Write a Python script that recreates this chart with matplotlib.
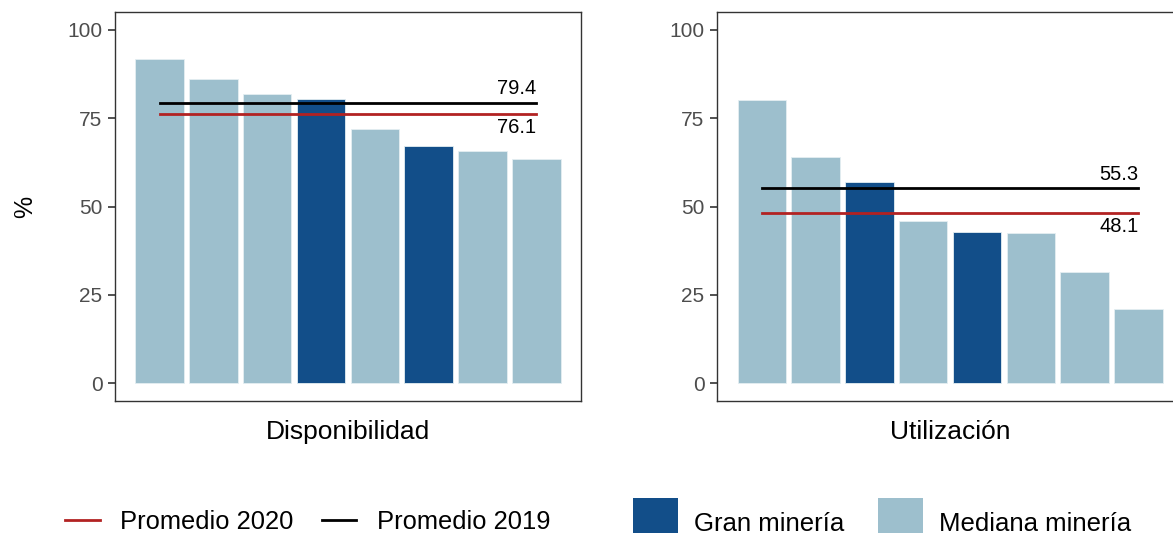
#!/usr/bin/env python3
"""
Disponibilidad y utilización por faena: barras con promedios 2019 / 2020
"""

import matplotlib
matplotlib.use('Agg')
import matplotlib.pyplot as plt
from matplotlib.lines import Line2D
from matplotlib.patches import Patch, Rectangle
from matplotlib.legend_handler import HandlerPatch

plt.rcParams['font.family'] = ['Liberation Sans', 'DejaVu Sans']

# Data
disp_values = [91.8, 86.2, 81.9, 80.5, 71.8, 67.0, 65.8, 63.3]
disp_groups = ['Mediana', 'Mediana', 'Mediana', 'Gran', 'Mediana', 'Gran', 'Mediana', 'Mediana']
disp_avg_2019 = 79.4
disp_avg_2020 = 76.1

util_values = [80.0, 64.1, 56.9, 46.0, 42.7, 42.5, 31.4, 20.9]
util_groups = ['Mediana', 'Mediana', 'Gran', 'Mediana', 'Gran', 'Mediana', 'Mediana', 'Mediana']
util_avg_2019 = 55.3
util_avg_2020 = 48.1

yticks = [0, 25, 50, 75, 100]

DARK = '#124e89'
LIGHT = '#9dbfcd'
RED = '#b22222'
colors = {'Gran': DARK, 'Mediana': LIGHT}


def draw_panel(ax, values, groups, avg19, avg20, xlabel):
    x = list(range(1, len(values) + 1))
    ax.bar(x, values, width=0.9, color=[colors[g] for g in groups],
           edgecolor='#e4eef2', linewidth=0.6, zorder=2)
    ax.plot([x[0], x[-1]], [avg19, avg19], color='black', lw=2.0, zorder=3)
    ax.plot([x[0], x[-1]], [avg20, avg20], color=RED, lw=2.0, zorder=3)
    hi, lo = (avg19, avg20) if avg19 >= avg20 else (avg20, avg19)
    ax.annotate(f'{hi:.1f}', (x[-1], hi), xytext=(0, 3), textcoords='offset points',
                ha='right', va='bottom', fontsize=14.5)
    ax.annotate(f'{lo:.1f}', (x[-1], lo), xytext=(0, -3), textcoords='offset points',
                ha='right', va='top', fontsize=14.5)

    ax.set_xlim(0.17, 8.83)
    ax.set_ylim(-5, 105)
    ax.set_xticks([])
    ax.set_yticks(yticks)
    ax.tick_params(axis='y', length=5, width=1.2, color='#333333',
                   labelcolor='#4d4d4d', labelsize=15, pad=4)
    for s in ax.spines.values():
        s.set_color('#333333')
        s.set_linewidth(1.0)
    ax.set_xlabel(xlabel, fontsize=19, labelpad=14)


def raised_square(legend, orig_handle, xdescent, ydescent, width, height, fontsize):
    # lift the key a little so it sits like the reference legend keys
    return Rectangle((-xdescent, -ydescent + 5), width, height)


fig = plt.figure(figsize=(11.73, 5.34), dpi=100)
ax1 = fig.add_axes([0.098, 0.249, 0.3973, 0.7285])
ax2 = fig.add_axes([0.6113, 0.249, 0.3973, 0.7285])

draw_panel(ax1, disp_values, disp_groups, disp_avg_2019, disp_avg_2020, 'Disponibilidad')
draw_panel(ax2, util_values, util_groups, util_avg_2019, util_avg_2020, 'Utilización')
ax1.set_ylabel('%', fontsize=18, labelpad=22)

line_handles = [Line2D([], [], color=RED, lw=2.0), Line2D([], [], color='black', lw=2.0)]
fig.legend(line_handles, ['Promedio 2020', 'Promedio 2019'], ncol=2, frameon=False,
           loc='center left', bbox_to_anchor=(0.047, 0.022), fontsize=18.4,
           handlelength=1.35, handletextpad=0.8, columnspacing=1.1, borderaxespad=0)

patch_handles = [Patch(facecolor=DARK), Patch(facecolor=LIGHT)]
fig.legend(patch_handles, ['Gran minería', 'Mediana minería'], ncol=2, frameon=False,
           loc='center left', bbox_to_anchor=(0.531, 0.022), fontsize=18.5,
           handlelength=1.75, handleheight=1.75, handletextpad=0.6, columnspacing=1.35,
           borderaxespad=0, handler_map={Patch: HandlerPatch(patch_func=raised_square)})

fig.savefig('out.png', dpi=100)
